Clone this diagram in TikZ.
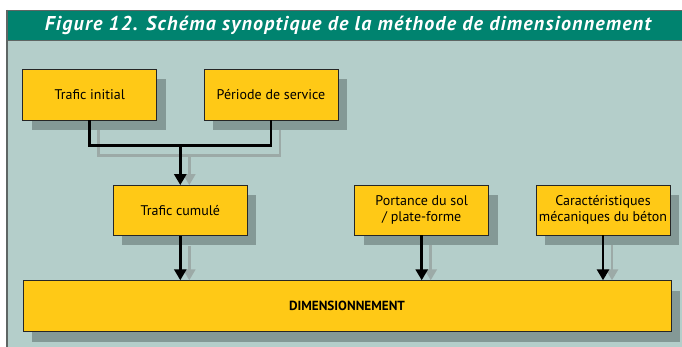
\documentclass[tikz,border=0pt]{standalone}
\usepackage{fontspec}
\setmainfont{PT Sans}
\newfontfamily\titrefont[LetterSpace=6]{PT Sans}
\usetikzlibrary{calc,shadows,arrows.meta}
\definecolor{bandeau}{HTML}{00836F}
\definecolor{fond}{HTML}{B4CECA}
\definecolor{ombre}{HTML}{849996}
\definecolor{jaune}{HTML}{FFC916}
\definecolor{trait}{HTML}{9CAAA7}
\definecolor{bord}{HTML}{5E6664}
\tikzset{
	boite/.style={draw=black!85, line width=0.8pt, fill=jaune, minimum width=134pt, minimum height=51pt,
		inner sep=0pt, align=center, font=\fontsize{14}{16.5}\selectfont,
		general shadow={fill=ombre, shadow xshift=9pt, shadow yshift=-10pt}},
	liaison/.style={line width=2.8pt, black},
	fleche/.style={liaison, -{Triangle[length=11pt,width=12pt]}},
	liaisonombre/.style={line width=2.8pt, trait},
	flecheombre/.style={liaisonombre, -{Triangle[length=11pt,width=12pt]}}
}
\begin{document}
\begin{tikzpicture}[x=1pt,y=-1pt]
			\useasboundingbox (0,0) rectangle (682,347);
			% cadre et bandeau
			\fill[fond] (7,40) rectangle (682,347);
			\fill[bandeau] (7,10) rectangle (682,40);
			\draw[bord, line width=0.8pt] (7,10) -- (682,10);
			\draw[bord, line width=1pt] (7,40.5) -- (682,40.5);
			\draw[bord, line width=2pt] (7,10) -- (7,347);
			\node[white, font=\fontsize{20}{23}\titrefont\bfseries\itshape] (titre) at (348,25.5)
				{Figure 12. Schéma synoptique de la méthode de dimensionnement};
			% boites
			\node[boite] (ti) at (89.7,94.5) {Trafic initial};
			\node[boite] (ps) at (271,94.5) {Période de service};
			\node[boite, minimum height=50pt] (tc) at (180.3,210.5) {Trafic cumulé};
			\node[boite, minimum height=50pt] (sol) at (421.7,210) {Portance du sol\\/ plate-forme};
			\node[boite, minimum height=50pt] (beton) at (603,210) {Caractéristiques\\mécaniques du béton};
			\node[boite, minimum width=648pt, font=\fontsize{13.2}{16}\selectfont\bfseries] (dim) at (347,306.2) {DIMENSIONNEMENT};
			\coordinate (j) at ($(tc.north)+(0,-39.3)$);
			% traits gris (ombre des liaisons)
			\draw[liaisonombre] ([shift={(9pt,-10pt)}]ti.south) |- ([shift={(9pt,-10pt)}]j) -| ([shift={(9pt,-10pt)}]ps.south);
			\draw[flecheombre] ([shift={(9pt,-10pt)}]j) -- ([xshift=9pt]tc.north);
			\draw[flecheombre] ([shift={(9pt,-10pt)}]tc.south) -- ([xshift=9pt]tc.south |- dim.north);
			\draw[flecheombre] ([shift={(9pt,-10pt)}]sol.south) -- ([xshift=9pt]sol.south |- dim.north);
			\draw[flecheombre] ([shift={(9pt,-10pt)}]beton.south) -- ([xshift=9pt]beton.south |- dim.north);
			% liaisons
			\draw[liaison] (ti.south) |- (j) -| (ps.south);
			\draw[fleche] (j) -- (tc.north);
			\draw[fleche] (tc.south) -- (tc.south |- dim.north);
			\draw[fleche] (sol.south) -- (sol.south |- dim.north);
			\draw[fleche] (beton.south) -- (beton.south |- dim.north);
	\end{tikzpicture}
\end{document}
